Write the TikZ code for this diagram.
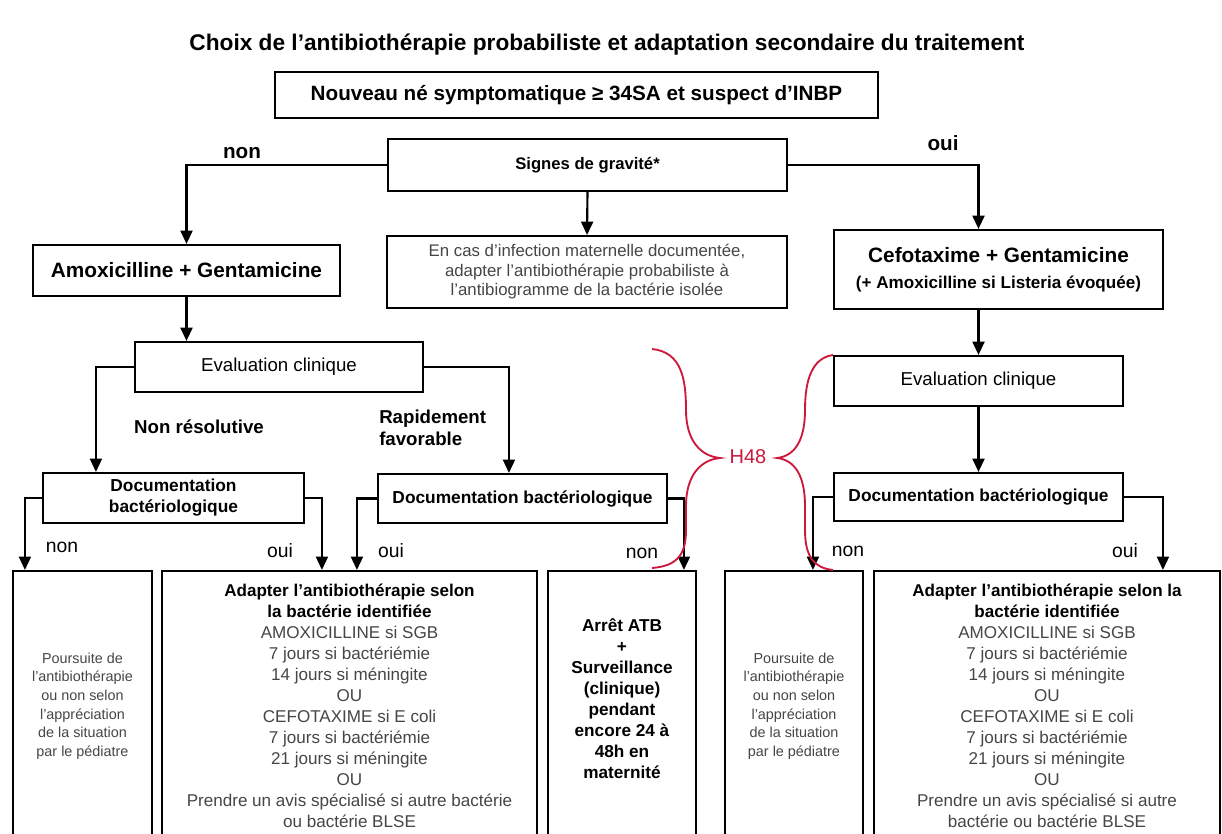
\documentclass[tikz,border=0pt]{standalone}
\usepackage{fontspec}
\setmainfont{Liberation Sans}
\usetikzlibrary{arrows.meta}
\definecolor{braceRed}{RGB}{205,25,60}
\definecolor{softText}{RGB}{70,70,70}

\begin{document}
\begin{tikzpicture}[x=0.75pt,y=-0.75pt,
  box/.style 2 args={draw, line width=1.6pt, inner sep=0pt,
    minimum width=#1*0.75pt, minimum height=#2*0.75pt, align=center},
  flow/.style={line width=1.6pt, -{Triangle[width=9pt,length=10pt]}},
  bracepath/.style={draw=braceRed, line width=1.4pt},
  boldlbl/.style={inner sep=0pt, font=\bfseries\fontsize{14pt}{16.5pt}\selectfont},
  toplbl/.style={inner sep=0pt, font=\bfseries\fontsize{15.5pt}{18pt}\selectfont},
  plainlbl/.style={inner sep=0pt, font=\fontsize{14.5pt}{16pt}\selectfont},
  smalltxt/.style={inner sep=0pt, align=center, text=softText,
    font=\fontsize{10.8pt}{14pt}\selectfont},
  longtxt/.style={inner sep=0pt, align=center, text=softText,
    font=\fontsize{12.8pt}{15.75pt}\selectfont},
]
\clip (0,0) rectangle (1222,834);
\fill[white] (0,0) rectangle (1222,834);

% title and entry
\node[font=\bfseries\fontsize{17pt}{20pt}\selectfont] (title) at (607,45)
  {Choix de l’antibiothérapie probabiliste et adaptation secondaire du traitement};
\node[box={603}{46}, font=\bfseries\fontsize{15.5pt}{18pt}\selectfont] (nn) at (576.5,95)
  {Nouveau né symptomatique ≥ 34SA et suspect d'INBP};

% first decision
\node[box={399}{52}, font=\bfseries\fontsize{12.5pt}{15pt}\selectfont] (grav) at (587.5,165)
  {Signes de gravité*};
\node[box={400}{72}, text=softText, font=\fontsize{12.6pt}{14.6pt}\selectfont] (mat) at (587,272)
  {En cas d’infection maternelle documentée,\\adapter l’antibiothérapie probabiliste à\\l’antibiogramme de la bactérie isolée};
\node[box={307}{51}, font=\bfseries\fontsize{15.6pt}{18pt}\selectfont] (amox) at (186.5,270.5)
  {Amoxicilline + Gentamicine};
\node[box={329}{79}, font=\bfseries\fontsize{15.6pt}{19.5pt}\selectfont] (cefo) at (998.5,269.5)
  {Cefotaxime + Gentamicine\\{\fontsize{12.8pt}{19.5pt}\selectfont (+ Amoxicilline si Listeria évoquée)}};

% clinical evaluation
\node[box={288}{50}, font=\fontsize{14pt}{16pt}\selectfont] (evalL) at (279,367) {Evaluation clinique};
\node[box={289}{50}, font=\fontsize{14pt}{16pt}\selectfont] (evalR) at (978.5,381) {Evaluation clinique};

% bacteriological documentation
\node[box={261}{50}, font=\bfseries\fontsize{13pt}{15.75pt}\selectfont] (docL) at (173.5,498)
  {Documentation\\bactériologique};
\node[box={289}{49}, font=\bfseries\fontsize{13pt}{15pt}\selectfont] (docM) at (522.5,498.5)
  {Documentation bactériologique};
\node[box={289}{48}, font=\bfseries\fontsize{13pt}{15pt}\selectfont] (docR) at (978.5,497)
  {Documentation bactériologique};

% outcome boxes
\node[box={139}{272}] (boxA) at (82.5,707) {};
\node[box={375}{272}] (boxB) at (349.5,707) {};
\node[box={148}{272}] (boxC) at (622,707) {};
\node[box={138}{272}] (boxD) at (794,707) {};
\node[box={346}{272}] (boxE) at (1047,707) {};

\node[smalltxt] (txtA) at (82.5,706)
  {Poursuite de\\l’antibiothérapie\\ou non selon\\l’appréciation\\de la situation\\par le pédiatre};
\node[longtxt] (txtB) at (349.5,706)
  {\textbf{\textcolor{black}{Adapter l’antibiothérapie selon}}\\
   \textbf{\textcolor{black}{la bactérie identifiée}}\\
   AMOXICILLINE si SGB\\7 jours si bactériémie\\14 jours si méningite\\OU\\
   CEFOTAXIME si E coli\\7 jours si bactériémie\\21 jours si méningite\\OU\\
   Prendre un avis spécialisé si autre bactérie\\ou bactérie BLSE};
\node[inner sep=0pt, align=center, font=\bfseries\fontsize{12.9pt}{15.75pt}\selectfont] (txtC) at (622,698.5)
  {Arrêt ATB\\+\\Surveillance\\(clinique)\\pendant\\encore 24 à\\48h en\\maternité};
\node[smalltxt] (txtD) at (794,706)
  {Poursuite de\\l’antibiothérapie\\ou non selon\\l’appréciation\\de la situation\\par le pédiatre};
\node[longtxt] (txtE) at (1047,706)
  {\textbf{\textcolor{black}{Adapter l’antibiothérapie selon la}}\\
   \textbf{\textcolor{black}{bactérie identifiée}}\\
   AMOXICILLINE si SGB\\7 jours si bactériémie\\14 jours si méningite\\OU\\
   CEFOTAXIME si E coli\\7 jours si bactériémie\\21 jours si méningite\\OU\\
   Prendre un avis spécialisé si autre\\bactérie ou bactérie BLSE};

% connectors
\draw[flow] (grav.west) -| (amox.north);
\draw[flow] (grav.east) -| (evalR.north |- cefo.north);
\draw[flow] (grav.south) -- (mat.north);
\draw[flow] (amox.south) -- (amox.south |- evalL.north);
\draw[flow] (cefo.south -| evalR.north) -- (evalR.north);
\draw[flow] (evalR.south) -- (docR.north);
\draw[flow] (evalL.west) -| ([xshift=40.5pt]docL.north west);
\draw[flow] (evalL.east) -| ([xshift=99pt]docM.north west);
\draw[flow] (docL.west) -| ([xshift=9.75pt]boxA.north west);
\draw[flow] (docL.east) -| ([xshift=120.75pt]boxB.north west);
\draw[flow] (docM.west) -| ([xshift=147pt]boxB.north west);
\draw[flow] (docM.east) -| ([xshift=102.75pt]boxC.north west);
\draw[flow] (docR.west) -| ([xshift=66.75pt]boxD.north west);
\draw[flow] (docR.east) -| ([xshift=217.5pt]boxE.north west);

% branch labels
\node[toplbl] (lnon) at (242,153) {non};
\node[toplbl] (loui) at (943,143) {oui};
\node[boldlbl] (lnr) at (199,427) {Non résolutive};
\node[boldlbl, anchor=west, align=left] (lrf) at (379,428) {Rapidement\\favorable};
\node[plainlbl] (n1) at (62,547) {non};
\node[plainlbl] (o1) at (280,551) {oui};
\node[plainlbl] (o2) at (391,551) {oui};
\node[plainlbl] (n2) at (642,553) {non};
\node[plainlbl] (n3) at (848,551) {non};
\node[plainlbl] (o3) at (1125,551) {oui};

% the 48-hour reassessment braces
\node[inner sep=0pt, text=braceRed, font=\fontsize{15pt}{17pt}\selectfont] (h48) at (748,457) {H48};
\path[bracepath] (652,349) .. controls (682,352) and (686,380) .. (686,410)
  .. controls (686,440) and (700,456) .. (720,458)
  .. controls (700,460) and (686,476) .. (686,506) -- (686,530)
  .. controls (686,556) and (676,566) .. (652,568);
\path[bracepath] (833,355) .. controls (812,358) and (805,380) .. (805,410)
  .. controls (805,440) and (795,456) .. (777,458)
  .. controls (795,460) and (805,476) .. (805,506) -- (805,530)
  .. controls (805,558) and (815,568) .. (833,570);
\end{tikzpicture}
\end{document}
